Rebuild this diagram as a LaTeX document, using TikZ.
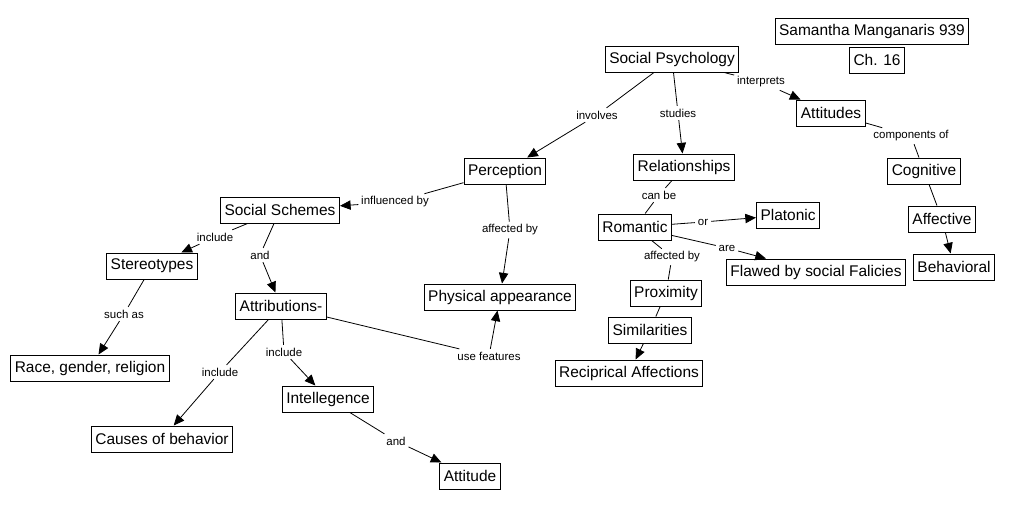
\documentclass[tikz,border=0pt]{standalone}
\usepackage{fontspec}
\setmainfont{Liberation Sans}
\usetikzlibrary{arrows.meta}

\begin{document}
\begin{tikzpicture}[x=0.75pt,y=-0.75pt,
    concept/.style={draw,line width=0.75pt,font=\fontsize{11.6}{13}\selectfont,
      inner xsep=3pt,inner ysep=0pt,minimum height=19.5pt},
    link/.style={font=\fontsize{8.6}{10}\selectfont,inner sep=2pt},
    conn/.style={line width=0.6pt},
    toarr/.style={conn,-{Triangle[length=8pt,width=7pt]}}]
  \useasboundingbox[fill=white] (0,0) rectangle (1012,508);
  % concepts
  \node[concept] (SP) at (672,59) {Social Psychology};
  \node[concept] (Name) at (872,31) {Samantha Manganaris 939};
  \node[concept] (Ch) at (877,60) {Ch. 16};
  \node[concept] (Att) at (831,113) {Attitudes};
  \node[concept] (Cog) at (924,171) {Cognitive};
  \node[concept] (Aff) at (942,219) {Affective};
  \node[concept] (Beh) at (954,267) {Behavioral};
  \node[concept] (Rel) at (684,167) {Relationships};
  \node[concept] (Rom) at (635,227) {Romantic};
  \node[concept] (Pla) at (788,215) {Platonic};
  \node[concept] (Fla) at (816,272) {Flawed by social Falicies};
  \node[concept] (Pro) at (666,293) {Proximity};
  \node[concept] (Sim) at (650,330) {Similarities};
  \node[concept] (Rec) at (629,373) {Reciprical Affections};
  \node[concept] (Per) at (505,171) {Perception};
  \node[concept] (SS) at (280,210) {Social Schemes};
  \node[concept] (Ste) at (152,266) {Stereotypes};
  \node[concept] (Rac) at (90,368) {Race, gender, religion};
  \node[concept] (Atb) at (281,306) {Attributions-};
  \node[concept] (Phy) at (500,297) {Physical appearance};
  \node[concept] (Cau) at (162,439) {Causes of behavior};
  \node[concept] (Int) at (328,399) {Intellegence};
  \node[concept] (Atd) at (470,476) {Attitude};
  % linking phrases
  \node[link] (lInv) at (597,115) {involves};
  \node[link] (lStu) at (678,113) {studies};
  \node[link] (lInt) at (761,82) {interprets};
  \node[link] (lCom) at (911,136) {components of};
  \node[link] (lCan) at (659,195) {can be};
  \node[link] (lOr) at (703,222) {or};
  \node[link] (lAre) at (727,248) {are};
  \node[link] (lAfR) at (672,257) {affected by};
  \node[link] (lInf) at (395,202) {influenced by};
  \node[link] (lAfP) at (510,230) {affected by};
  \node[link] (lIn1) at (215,237) {include};
  \node[link] (lAn1) at (260,255) {and};
  \node[link] (lSuc) at (124,314) {such as};
  \node[link] (lIn2) at (220,372) {include};
  \node[link] (lIn3) at (284,352) {include};
  \node[link] (lUse) at (489,356) {use features};
  \node[link] (lAn2) at (396,441) {and};
  % connections
  \draw[conn] (SP) -- (lInv); \draw[toarr] (lInv) -- (Per);
  \draw[conn] (SP) -- (lStu); \draw[toarr] (lStu) -- (Rel);
  \draw[conn] (SP) -- (lInt); \draw[toarr] (lInt) -- (Att);
  \draw[conn] (Att) -- (lCom) (lCom) -- (Cog);
  \draw[conn] (Cog) -- (Aff);
  \draw[toarr] (Aff) -- (Beh);
  \draw[conn] (Rel) -- (lCan) (lCan) -- (Rom);
  \draw[conn] (Rom) -- (lOr); \draw[toarr] (lOr) -- (Pla);
  \draw[conn] (Rom) -- (lAre); \draw[toarr] (lAre) -- (Fla);
  \draw[conn] (Rom) -- (lAfR) (lAfR) -- (Pro);
  \draw[conn] (Pro) -- (Sim);
  \draw[toarr] (Sim) -- (Rec);
  \draw[conn] (Per) -- (lInf); \draw[toarr] (lInf) -- (SS);
  \draw[conn] (Per) -- (lAfP); \draw[toarr] (lAfP) -- (Phy);
  \draw[conn] (SS) -- (lIn1); \draw[toarr] (lIn1) -- (Ste);
  \draw[conn] (SS) -- (lAn1); \draw[toarr] (lAn1) -- (Atb);
  \draw[conn] (Ste) -- (lSuc); \draw[toarr] (lSuc) -- (Rac);
  \draw[conn] (Atb) -- (lIn2); \draw[toarr] (lIn2) -- (Cau);
  \draw[conn] (Atb) -- (lIn3); \draw[toarr] (lIn3) -- (Int);
  \draw[conn] (Atb) -- (lUse); \draw[toarr] (lUse) -- (Phy);
  \draw[conn] (Int) -- (lAn2); \draw[toarr] (lAn2) -- (Atd);
\end{tikzpicture}
\end{document}
